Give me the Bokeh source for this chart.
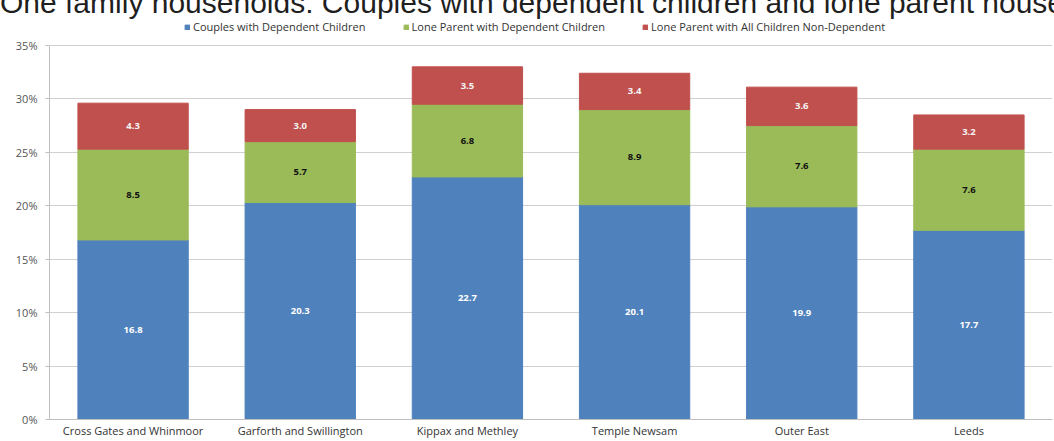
from bokeh.plotting import figure
from bokeh.models import ColumnDataSource, Range1d, FixedTicker, PrintfTickFormatter, Div
from bokeh.layouts import column
from bokeh.core.properties import value
from bokeh.embed import file_html
from bokeh.resources import INLINE

areas = ["Cross Gates and Whinmoor", "Garforth and Swillington", "Kippax and Methley",
         "Temple Newsam", "Outer East", "Leeds"]
couples_dep = [16.8, 20.3, 22.7, 20.1, 19.9, 17.7]
lone_dep = [8.5, 5.7, 6.8, 8.9, 7.6, 7.6]
lone_nondep = [4.3, 3.0, 3.5, 3.4, 3.6, 3.2]
series_names = ["Couples with Dependent Children", "Lone Parent with Dependent Children",
                "Lone Parent with All Children Non-Dependent"]
y_ticks = [0, 5, 10, 15, 20, 25, 30, 35]
title_text = "One family households: Couples with dependent children and lone parent households"

colors = ["#4F81BD", "#9BBB59", "#C0504D"]
label_colors = ["#ffffff", "#111111", "#f4f4f4"]

title_div = Div(
    text=('<div style="height:19px;width:1054px;overflow:hidden;white-space:nowrap;">'
          '<div style="font-family:\'Liberation Sans\';font-size:30px;line-height:6px;'
          'color:#1f1f1f;white-space:nowrap;">' + title_text + '</div></div>'),
    width=1054, height=19, margin=0, styles={"overflow": "hidden"})

src = ColumnDataSource(dict(area=areas, s0=couples_dep, s1=lone_dep, s2=lone_nondep))

p = figure(x_range=areas, y_range=Range1d(0, 37.43), width=1054, height=421,
           min_border_left=49, min_border_right=2, min_border_top=0, min_border_bottom=10,
           output_backend="svg", toolbar_location=None, margin=0)

p.vbar_stack(["s0", "s1", "s2"], x="area", width=0.66, color=colors, source=src,
             legend_label=series_names)

# segment labels
series = [couples_dep, lone_dep, lone_nondep]
base = [0.0] * len(areas)
for vals, col in zip(series, label_colors):
    mids = [b + v / 2 for b, v in zip(base, vals)]
    txt = [f"{v:.1f}" for v in vals]
    lsrc = ColumnDataSource(dict(area=areas, y=mids, t=txt))
    p.text(x="area", y="y", text="t", source=lsrc, text_align="center", text_baseline="middle",
           text_font=value("Open Sans"), text_font_style="bold", text_font_size="9.5px",
           text_color=col)
    base = [b + v for b, v in zip(base, vals)]

lg = p.legend[0]
lg.location = (135, 385)
lg.orientation = "horizontal"
lg.background_fill_alpha = 0
lg.border_line_color = None
lg.label_text_font = "Open Sans"
lg.label_text_font_size = "11px"
lg.label_text_color = "#333333"
lg.glyph_width = 6
lg.glyph_height = 6
lg.spacing = 37
lg.margin = 0
lg.padding = 1
lg.label_standoff = 3

p.outline_line_color = None
p.xgrid.grid_line_color = None
p.ygrid.grid_line_color = "#d0d0d0"
p.yaxis.ticker = FixedTicker(ticks=y_ticks)
p.yaxis.formatter = PrintfTickFormatter(format="%d%%")
p.yaxis.bounds = (0, 35)
p.yaxis.axis_line_color = "#bfbfbf"
p.yaxis.major_tick_line_color = "#bfbfbf"
p.yaxis.major_tick_out = 4
p.yaxis.major_tick_in = 0
p.yaxis.minor_tick_line_color = None
p.yaxis.major_label_text_font = "Open Sans"
p.yaxis.major_label_text_font_size = "11px"
p.yaxis.major_label_text_color = "#555555"
p.yaxis.major_label_standoff = 8

p.xaxis.axis_line_color = "#bfbfbf"
p.xaxis.major_tick_line_color = None
p.xaxis.major_tick_out = 0
p.xaxis.major_tick_in = 0
p.xaxis.major_label_text_font = "Open Sans"
p.xaxis.major_label_text_font_size = "11px"
p.xaxis.major_label_text_color = "#333333"
p.xaxis.major_label_standoff = 3

layout = column(title_div, p, spacing=0)
open("out.html", "w").write(file_html(layout, INLINE))
